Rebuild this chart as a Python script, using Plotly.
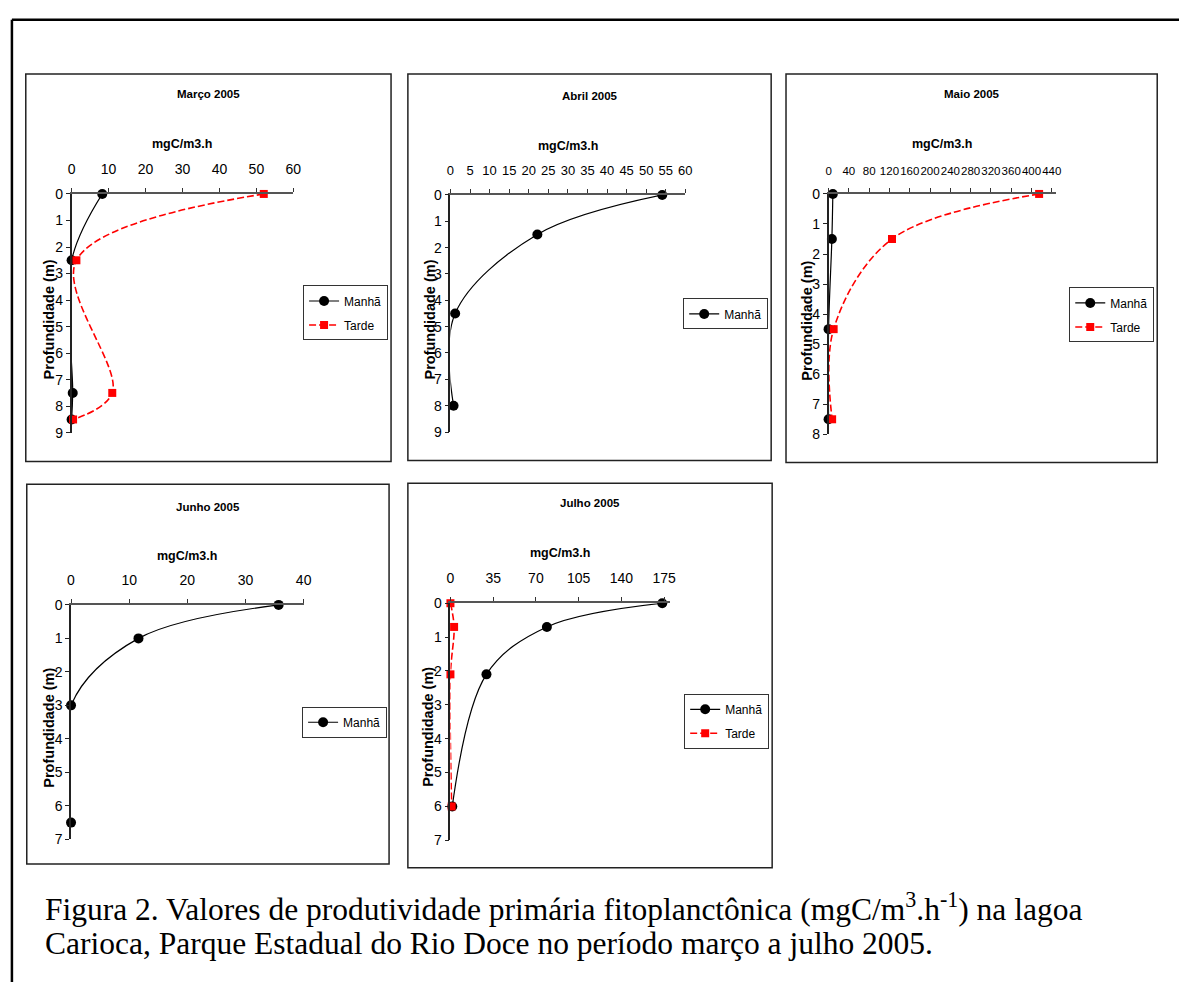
import plotly.graph_objects as go

# ---- data: primary productivity (mgC/m3.h) by depth (m) ----
marco_depth = [0, 2.5, 7.5, 8.5]
marco_manha = [8.3, 0.0, 0.3, 0.0]
marco_tarde = [52.0, 1.3, 11.0, 0.4]

abril_depth = [0, 1.5, 4.5, 8.0]
abril_manha = [54.1, 22.2, 1.2, 0.8]

maio_depth = [0, 1.5, 4.5, 7.5]
maio_manha = [8.4, 6.5, 0.0, 0.0]
maio_tarde = [415.0, 125.0, 10.0, 7.0]

junho_depth = [0, 1.0, 3.0, 6.5]
junho_manha = [35.7, 11.6, 0.0, 0.0]

julho_depth = [0, 0.7, 2.1, 6.0]
julho_manha = [173.5, 79.0, 29.5, 1.5]
julho_tarde = [0.0, 3.0, 0.0, 1.0]

panel_titles = ["Março 2005", "Abril 2005", "Maio 2005", "Junho 2005", "Julho 2005"]
x_ticks = [
    [0, 10, 20, 30, 40, 50, 60],
    list(range(0, 61, 5)),
    list(range(0, 441, 40)),
    [0, 10, 20, 30, 40],
    [0, 35, 70, 105, 140, 175],
]
x_max = [60, 60, 448, 40, 180]
y_max = [9, 9, 8, 7, 7]

caption_1 = "Figura 2. Valores de produtividade primária fitoplanctônica (mgC/m<sup>3</sup>.h<sup>-1</sup>) na lagoa"
caption_2 = "Carioca, Parque Estadual do Rio Doce no período março a julho 2005."

series = [
    (marco_depth, [("Manhã", marco_manha), ("Tarde", marco_tarde)]),
    (abril_depth, [("Manhã", abril_manha)]),
    (maio_depth, [("Manhã", maio_manha), ("Tarde", maio_tarde)]),
    (junho_depth, [("Manhã", junho_manha)]),
    (julho_depth, [("Manhã", julho_manha), ("Tarde", julho_tarde)]),
]

# ---- page geometry (pixels) ----
W, H = 1187, 990


def px(x):
    return x / W


def py(y):
    return 1 - y / H


# frame box, plot area, title y, unit-label y, depth-label x/y,
# legend right edge / vertical centre, x tick font size
geom = [
    dict(box=(22, 67, 391, 461), plot=(68.3, 189, 292.3, 431.7), ty=87, uy=138, lx=45, ly=317, leg=(388, 310), tf=14),
    dict(box=(408, 67, 775, 460), plot=(451, 190, 688.3, 431), ty=89, uy=140, lx=430, ly=317, leg=(772, 311), tf=13),
    dict(box=(790, 67, 1165, 462), plot=(833, 189, 1062.6, 433.3), ty=87, uy=138, lx=811, ly=318, leg=(1162, 312), tf=11.5),
    dict(box=(23, 484, 389, 870), plot=(67.7, 606.7, 302.7, 845), ty=507, uy=557, lx=46, ly=732, leg=(387, 726), tf=14),
    dict(box=(408, 483, 776, 874), plot=(451, 605, 673, 846), ty=503, uy=554, lx=429, ly=731, leg=(773, 725), tf=14),
]

STYLE = {
    "Manhã": dict(line=dict(color="black", width=1.2, shape="spline", smoothing=1),
                  marker=dict(symbol="circle", size=10, color="black")),
    "Tarde": dict(line=dict(color="#ff0000", width=1.6, dash="7px,3px", shape="spline", smoothing=1),
                  marker=dict(symbol="square", size=8, color="#ff0000")),
}

SANS = "Liberation Sans, Arial, sans-serif"
TICK_FONT = dict(family=SANS, size=14, color="black")

fig = go.Figure()
layout = dict(
    width=W, height=H, margin=dict(l=0, r=0, t=0, b=0),
    paper_bgcolor="white", plot_bgcolor="white",
    showlegend=True, shapes=[], annotations=[],
)

for i, (depth, lines) in enumerate(series):
    g = geom[i]
    sfx = "" if i == 0 else str(i + 1)
    xa, ya, lg = "x" + sfx, "y" + sfx, "legend" + sfx

    for name, vals in lines:
        st = STYLE[name]
        fig.add_trace(go.Scatter(
            x=vals, y=depth, mode="lines+markers", name=name,
            xaxis=xa, yaxis=ya, legend=lg, legendgroup=f"{i}-{name}",
            line=st["line"], marker=st["marker"], cliponaxis=False,
        ))

    x0, y0, x1, y1 = g["plot"]
    layout["xaxis" + sfx] = dict(
        domain=[px(x0), px(x1)], range=[0, x_max[i]], anchor=ya, side="top",
        tickvals=x_ticks[i], ticks="outside", ticklen=4, tickcolor="#333",
        showline=True, linecolor="#555", linewidth=1.5, showgrid=False, zeroline=False,
        tickfont=dict(family=SANS, size=g["tf"], color="black"), tickangle=0,
        ticklabelstandoff=9, fixedrange=True,
    )
    layout["yaxis" + sfx] = dict(
        domain=[py(y1), py(y0)], range=[y_max[i], 0], anchor=xa,
        tickvals=list(range(0, y_max[i] + 1)), ticks="outside", ticklen=4, tickcolor="#222",
        showline=True, linecolor="#222", linewidth=1.5, showgrid=False, zeroline=False,
        tickfont=TICK_FONT, fixedrange=True,
    )
    layout[lg] = dict(
        x=px(g["leg"][0]), y=py(g["leg"][1]), xanchor="right", yanchor="middle",
        bordercolor="#333", borderwidth=1, bgcolor="white",
        font=dict(family=SANS, size=12, color="black"),
        tracegroupgap=5, itemwidth=30, traceorder="grouped",
    )

    bx0, by0, bx1, by1 = g["box"]
    layout["shapes"].append(dict(
        type="rect", xref="paper", yref="paper",
        x0=px(bx0), x1=px(bx1), y0=py(by1), y1=py(by0),
        line=dict(color="#222", width=1.5),
    ))
    layout["annotations"] += [
        dict(text=f"<b>{panel_titles[i]}</b>", x=px((bx0 + bx1) / 2), y=py(g["ty"]),
             xref="paper", yref="paper", showarrow=False, xanchor="center", yanchor="middle",
             font=dict(family=SANS, size=11.5, color="black")),
        dict(text="<b>mgC/m3.h</b>", x=px((x0 + x1) / 2), y=py(g["uy"]),
             xref="paper", yref="paper", showarrow=False, xanchor="center", yanchor="middle",
             font=dict(family=SANS, size=12.5, color="black")),
        dict(text="<b>Profundidade (m)</b>", x=px(g["lx"]), y=py(g["ly"]), textangle=-90,
             xref="paper", yref="paper", showarrow=False, xanchor="center", yanchor="middle",
             font=dict(family=SANS, size=14.5, color="black")),
    ]

# page frame (top and left edges)
layout["shapes"] += [
    dict(type="line", xref="paper", yref="paper", x0=px(8), x1=1, y0=py(12), y1=py(12),
         line=dict(color="black", width=2.5)),
    dict(type="line", xref="paper", yref="paper", x0=px(8), x1=px(8), y0=py(12), y1=0,
         line=dict(color="black", width=2.5)),
]

# figure caption
SERIF = "Liberation Serif, Times New Roman, serif"
layout["annotations"] += [
    dict(text=caption_1, x=px(39), y=py(914), xref="paper", yref="paper", showarrow=False,
         xanchor="left", yanchor="middle", font=dict(family=SERIF, size=31.5, color="black")),
    dict(text=caption_2, x=px(39), y=py(951), xref="paper", yref="paper", showarrow=False,
         xanchor="left", yanchor="middle", font=dict(family=SERIF, size=31.5, color="black")),
]

fig.update_layout(**layout)
fig.write_html(
    "out.html",
    post_script="document.body.style.margin='0';document.body.style.overflow='hidden';",
)
